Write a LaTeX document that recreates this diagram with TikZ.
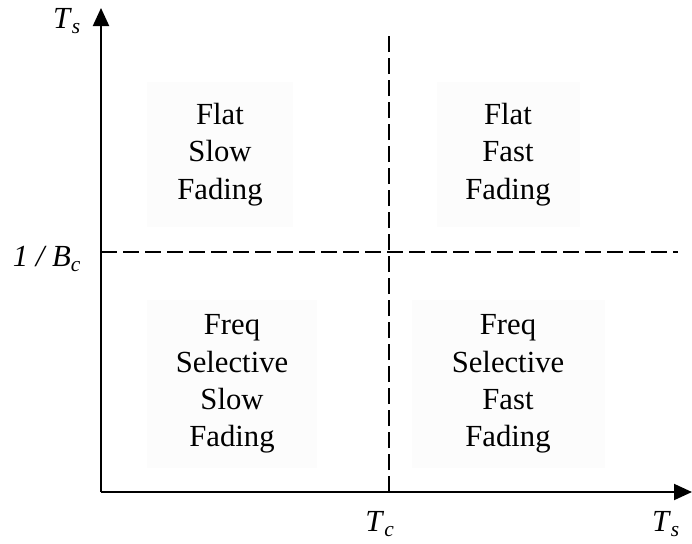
\documentclass[tikz,border=0pt]{standalone}
\usepackage{fontspec}
\setmainfont{Liberation Serif}
\usetikzlibrary{arrows.meta}

\def\regionfill{black!1}

\begin{document}
\begin{tikzpicture}[x=0.75pt,y=-0.75pt,font=\fontsize{23}{28}\selectfont]
    \tikzstyle{axis}=[line width=1.5pt,-{Triangle[length=13.5pt,width=12pt]}]
    \tikzstyle{split}=[line width=1.1pt,dash pattern=on 12pt off 4.5pt]
    \tikzstyle{region}=[fill=\regionfill,align=center,inner sep=0pt]
    \tikzstyle{lbl}=[inner sep=0pt]

    \useasboundingbox (0,0) rectangle (692,543);

    \coordinate (origin) at (101,492);
    \coordinate (ytop) at (101,8);
    \coordinate (xend) at (692,492);
    \coordinate (tcbot) at (389,492);
    \coordinate (tctop) at (389,33);
    \coordinate (bcleft) at (101,252);
    \coordinate (bcright) at (678,252);

    \draw[axis] (origin) -- (ytop);
    \draw[axis] (origin) -- (xend);
    \draw[split] (tcbot) -- (tctop);
    \draw[split] (bcleft) -- (bcright);

    \node[lbl] (tsy) at (67,21) {\textit{T}\textsubscript{\textit{s}}};
    \node[lbl] (bc) at (47,259) {\textit{1 / B}\textsubscript{\textit{c}}};
    \node[lbl] (tc) at (380,524) {\textit{T}\textsubscript{\textit{c}}};
    \node[lbl] (tsx) at (666,524) {\textit{T}\textsubscript{\textit{s}}};

    \node[region,minimum width=146*0.75pt,minimum height=145*0.75pt] (flatslow) at (220,154.5) {Flat\\Slow\\Fading};
    \node[region,minimum width=143*0.75pt,minimum height=145*0.75pt] (flatfast) at (508,154.5) {Flat\\Fast\\Fading};
    \node[region,minimum width=170*0.75pt,minimum height=168*0.75pt] (selslow) at (232,384) {Freq\\Selective\\Slow\\Fading};
    \node[region,minimum width=193*0.75pt,minimum height=168*0.75pt] (selfast) at (508,384) {Freq\\Selective\\Fast\\Fading};
\end{tikzpicture}
\end{document}
